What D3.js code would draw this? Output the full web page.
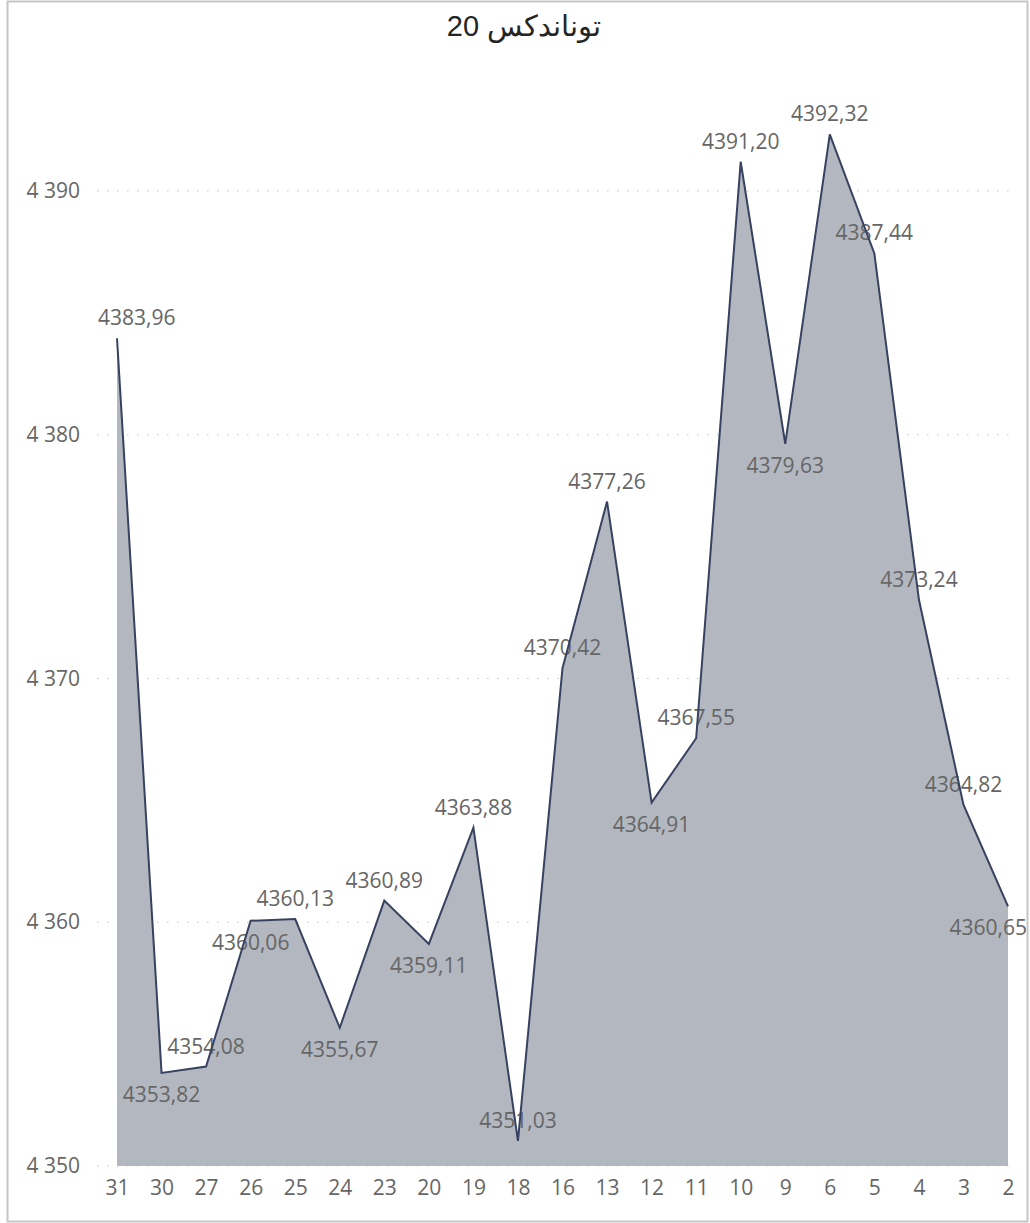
<!DOCTYPE html>
<html>
<head>
<meta charset="utf-8">
<script src="https://cdn.jsdelivr.net/npm/d3@7"></script>
<style>
  body { margin: 0; background: #fff; }
  svg text { font-family: "Open Sans", "Noto Sans", sans-serif; }
</style>
</head>
<body>
<div id="viz"></div>
<script>
// Chart data
const title = "توناندكس 20";
const days = ["31", "30", "27", "26", "25", "24", "23", "20", "19", "18", "16", "13", "12", "11", "10", "9", "6", "5", "4", "3", "2"];
const values = [4383.96, 4353.82, 4354.08, 4360.06, 4360.13, 4355.67, 4360.89, 4359.11, 4363.88, 4351.03, 4370.42, 4377.26, 4364.91, 4367.55, 4391.20, 4379.63, 4392.32, 4387.44, 4373.24, 4364.82, 4360.65];
// which side of the point each data label sits on
const labelSide = ["up", "down", "up", "down", "up", "down", "up", "down", "up", "up", "up", "up", "down", "up", "up", "down", "up", "up", "up", "up", "down"];
const yTicks = [4350, 4360, 4370, 4380, 4390];

const width = 1030;
const height = 1223;

const data = days.map((d, i) => ({ day: d, value: values[i], side: labelSide[i] }));

const svg = d3.select("#viz")
    .append("svg")
    .attr("width", width)
    .attr("height", height);

// Frame
svg.append("rect")
    .attr("x", 7.5)
    .attr("y", 1.5)
    .attr("width", 1020)
    .attr("height", 1220)
    .attr("fill", "none")
    .attr("stroke", "#c6c6c6")
    .attr("stroke-width", 2);

// Title
svg.append("text")
    .attr("x", 524)
    .attr("y", 36)
    .attr("text-anchor", "middle")
    .style("font-family", "'Liberation Sans', Arial, sans-serif")
    .attr("font-size", 29)
    .attr("fill", "#252525")
    .text(title);

// Scales
const x = d3.scalePoint()
    .domain(days)
    .range([117, 1008]);

const y = d3.scaleLinear()
    .domain([4350, 4390])
    .range([1166, 191]);

// Gridlines
svg.append("g")
    .selectAll("line")
    .data(yTicks)
    .enter().append("line")
    .attr("x1", 97)
    .attr("x2", 1016)
    .attr("y1", d => y(d))
    .attr("y2", d => y(d))
    .attr("stroke", "#c4c4c4")
    .attr("stroke-width", 1.2)
    .attr("stroke-dasharray", "1.5 8.5");

// Area + line
const area = d3.area()
    .x(d => x(d.day))
    .y0(y(4350))
    .y1(d => y(d.value));

const line = d3.line()
    .x(d => x(d.day))
    .y(d => y(d.value));

svg.append("path")
    .datum(data)
    .attr("d", area)
    .attr("fill", "#b3b7c0");

// Y axis
const yAxis = svg.append("g")
    .attr("transform", "translate(80,0)")
    .call(d3.axisLeft(y)
        .tickValues(yTicks)
        .tickSize(0)
        .tickPadding(0)
        .tickFormat(d => d3.format(",")(d).replace(",", " ")));
yAxis.select(".domain").remove();
yAxis.selectAll("text")
    .attr("font-size", 21)
    .attr("fill", "#666")
    .style("font-family", "'Open Sans', sans-serif");

// X axis
const xAxis = svg.append("g")
    .attr("transform", "translate(0,1166)")
    .call(d3.axisBottom(x).tickSize(0).tickPadding(14));
xAxis.select(".domain").remove();
xAxis.selectAll("text")
    .attr("font-size", 21)
    .attr("fill", "#666")
    .style("font-family", "'Open Sans', sans-serif");

// Data labels (drawn under the line)
const fmt = v => d3.format(".2f")(v).replace(".", ",");
svg.append("g")
    .selectAll("text")
    .data(data)
    .enter().append("text")
    .attr("font-size", 21)
    .attr("fill", "#666")
    .attr("text-anchor", "middle")
    .attr("x", d => x(d.day))
    .attr("y", d => y(d.value) + (d.side === "up" ? -13 : 29))
    .text(d => fmt(d.value))
    .each(function () {
        // keep labels inside the frame
        const b = this.getBBox();
        const cx = +d3.select(this).attr("x");
        if (b.x < 98) d3.select(this).attr("x", cx + (98 - b.x));
        if (b.x + b.width > 1027) d3.select(this).attr("x", cx - (b.x + b.width - 1027));
    });

svg.append("path")
    .datum(data)
    .attr("d", line)
    .attr("fill", "none")
    .attr("stroke", "#374260")
    .attr("stroke-width", 2)
    .attr("stroke-linejoin", "miter");
</script>
</body>
</html>
